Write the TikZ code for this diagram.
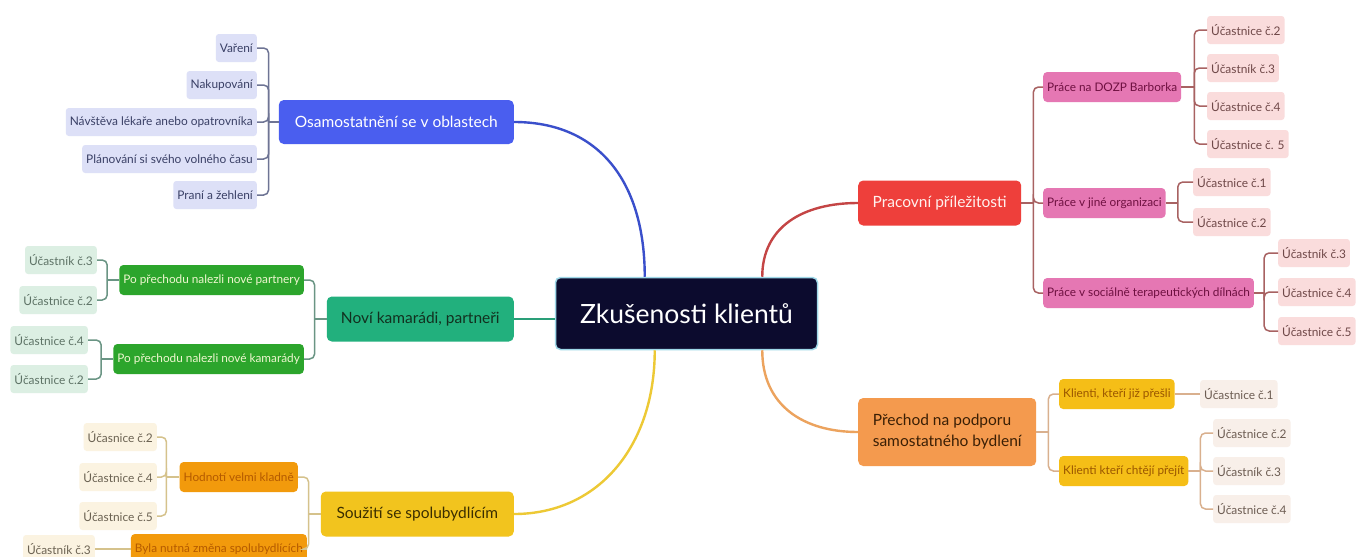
\documentclass[tikz,border=0pt]{standalone}
\usepackage{fontspec}
\setmainfont{Lato}
\definecolor{navy}{HTML}{0C0B2E}
\definecolor{cyanB}{HTML}{9FD8E8}
\definecolor{blueM}{HTML}{4A5EEF}
\definecolor{blueL}{HTML}{DDE0F7}
\definecolor{blueT}{HTML}{3A4066}
\definecolor{blueC}{HTML}{3A4FCB}
\definecolor{blueBr}{HTML}{6E7494}
\definecolor{greenM}{HTML}{22B07D}
\definecolor{greenT}{HTML}{12301F}
\definecolor{greenS}{HTML}{2CA52C}
\definecolor{greenST}{HTML}{EFF7D0}
\definecolor{greenL}{HTML}{DCEFE3}
\definecolor{greenLT}{HTML}{5E7366}
\definecolor{greenC}{HTML}{2A9F78}
\definecolor{greenBr}{HTML}{6A9584}
\definecolor{yelM}{HTML}{F2C41E}
\definecolor{yelT}{HTML}{3B2E00}
\definecolor{orS}{HTML}{F29A0C}
\definecolor{orST}{HTML}{B45A00}
\definecolor{yelL}{HTML}{FBF3E1}
\definecolor{yelLT}{HTML}{6B6252}
\definecolor{yelC}{HTML}{EDC935}
\definecolor{yelBr}{HTML}{D5C28C}
\definecolor{redM}{HTML}{EE3F3B}
\definecolor{redT}{HTML}{FFF1EE}
\definecolor{pinkS}{HTML}{E577B3}
\definecolor{pinkST}{HTML}{6E1040}
\definecolor{pinkL}{HTML}{FADCDC}
\definecolor{pinkLT}{HTML}{6F4848}
\definecolor{redC}{HTML}{C44545}
\definecolor{redBr}{HTML}{A86262}
\definecolor{orM}{HTML}{F49A4E}
\definecolor{orMT}{HTML}{3A1F05}
\definecolor{klS}{HTML}{F5BE17}
\definecolor{klST}{HTML}{9A5600}
\definecolor{orL}{HTML}{F8EFE9}
\definecolor{orLT}{HTML}{6C5C52}
\definecolor{orC}{HTML}{ECA35E}
\definecolor{orBr}{HTML}{D9B08E}
\tikzset{
  lf/.style={rounded corners=3pt, inner xsep=4pt, inner ysep=0pt, minimum height=28pt, font=\fontsize{11.9}{13}\selectfont},
  sb/.style={rounded corners=4pt, inner xsep=4pt, inner ysep=0pt, minimum height=30pt, font=\fontsize{11.8}{13}\selectfont},
  mn/.style={rounded corners=5pt, inner sep=0pt, font=\fontsize{15.5}{18}\selectfont},
  con/.style={line width=2.4pt},
  brk/.style={line width=1.5pt, rounded corners=5pt},
}
\begin{document}
\begin{tikzpicture}[x=1pt,y=-1pt]
\useasboundingbox (0,0) rectangle (1358,557);
\clip (0,0) rectangle (1358,557);
\fill[white] (0,0) rectangle (1358,557);

% central
\node[fill=navy, draw=cyanB, line width=1.5pt, rounded corners=5pt, minimum width=262pt, minimum height=72pt, text=white, font=\fontsize{26.5}{30}\selectfont] (c) at (686.5,313.5) {Zkušenosti klientů};

% ---------- blue ----------
\node[mn, fill=blueM, text=white, minimum width=235pt, minimum height=44pt, anchor=east] (osam) at (514,122) {Osamostatnění se v oblastech};
\node[lf, fill=blueL, text=blueT, anchor=east] (b1) at (257,48) {Vaření};
\node[lf, fill=blueL, text=blueT, anchor=east] (b2) at (257,85) {Nakupování};
\node[lf, fill=blueL, text=blueT, anchor=east] (b3) at (257,122) {Návštěva lékaře anebo opatrovníka};
\node[lf, fill=blueL, text=blueT, anchor=east] (b4) at (257,159) {Plánování si svého volného času};
\node[lf, fill=blueL, text=blueT, anchor=east] (b5) at (257,195) {Praní a žehlení};
\draw[con, blueC] (osam.east) .. controls +(85,0) and +(0,-95) .. ([xshift=90pt]c.north west);
\draw[brk, blueBr] (osam.west) -- ++(-10,0);
\foreach \n in {b1,b2,b3,b4,b5} \draw[brk, blueBr] ([xshift=-10pt]osam.west) |- (\n.east);

% ---------- green ----------
\node[mn, fill=greenM, text=greenT, minimum width=187pt, minimum height=45pt, anchor=east] (novi) at (514,319) {Noví kamarádi, partneři};
\draw[con, greenC] (novi.east) -- (c.west |- novi.east);
\node[sb, fill=greenS, text=greenST, anchor=east] (g1) at (304,280) {Po přechodu nalezli nové partnery};
\node[sb, fill=greenS, text=greenST, anchor=east] (g2) at (304,359) {Po přechodu nalezli nové kamarády};
\draw[brk, greenBr] (novi.west) -- ++(-12,0);
\foreach \n in {g1,g2} \draw[brk, greenBr] ([xshift=-12pt]novi.west) |- (\n.east);
\node[lf, fill=greenL, text=greenLT, anchor=east] (g11) at (97,260) {Účastník č.3};
\node[lf, fill=greenL, text=greenLT, anchor=east] (g12) at (97,300) {Účastnice č.2};
\node[lf, fill=greenL, text=greenLT, anchor=east] (g21) at (88,340) {Účastnice č.4};
\node[lf, fill=greenL, text=greenLT, anchor=east] (g22) at (88,379) {Účastnice č.2};
\draw[brk, greenBr] (g1.west) -- ++(-12,0);
\foreach \n in {g11,g12} \draw[brk, greenBr] ([xshift=-12pt]g1.west) |- (\n.east);
\draw[brk, greenBr] (g2.west) -- ++(-12,0);
\foreach \n in {g21,g22} \draw[brk, greenBr] ([xshift=-12pt]g2.west) |- (\n.east);

% ---------- yellow ----------
\node[mn, fill=yelM, text=yelT, minimum width=193pt, minimum height=45pt, anchor=east] (sou) at (514,514) {Soužití se spolubydlícím};
\draw[con, yelC] (sou.east) .. controls +(85,0) and +(0,95) .. ([xshift=100pt]c.south west);
\node[sb, fill=orS, text=orST, anchor=east] (y1) at (298,477) {Hodnotí velmi kladně};
\node[sb, fill=orS, text=orST, anchor=east] (y2) at (307,549) {Byla nutná změna spolubydlících};
\draw[brk, yelBr] (sou.west) -- ++(-12,0);
\foreach \n in {y1,y2} \draw[brk, yelBr] ([xshift=-12pt]sou.west) |- (\n.east);
\node[lf, fill=yelL, text=yelLT, anchor=east] (y11) at (157,437) {Účasnice č.2};
\node[lf, fill=yelL, text=yelLT, anchor=east] (y12) at (157,477) {Účastnice č.4};
\node[lf, fill=yelL, text=yelLT, anchor=east] (y13) at (157,516) {Účastnice č.5};
\node[lf, fill=yelL, text=yelLT, anchor=east] (y21) at (95,549) {Účastník č.3};
\draw[brk, yelBr] (y1.west) -- ++(-13,0);
\foreach \n in {y11,y12,y13} \draw[brk, yelBr] ([xshift=-13pt]y1.west) |- (\n.east);
\draw[brk, yelBr] (y2.west) -- (y21.east);

% ---------- red ----------
\node[mn, fill=redM, text=redT, minimum width=163pt, minimum height=45pt, anchor=west] (prac) at (858,203) {Pracovní příležitosti};
\draw[con, redC] ([xshift=-56pt]c.north east) .. controls +(0,-50) and +(-55,0) .. (prac.west);
\node[sb, fill=pinkS, text=pinkST, anchor=west] (r1) at (1043,87) {Práce na DOZP Barborka};
\node[sb, fill=pinkS, text=pinkST, anchor=west] (r2) at (1043,203) {Práce v jiné organizaci};
\node[sb, fill=pinkS, text=pinkST, anchor=west] (r3) at (1043,293) {Práce v sociálně terapeutických dílnách};
\draw[brk, redBr] (prac.east) -- ++(12,0);
\foreach \n in {r1,r2,r3} \draw[brk, redBr] ([xshift=12pt]prac.east) |- (\n.west);
\node[lf, fill=pinkL, text=pinkLT, anchor=west] (r11) at (1207,30) {Účastnice č.2};
\node[lf, fill=pinkL, text=pinkLT, anchor=west] (r12) at (1207,68) {Účastník č.3};
\node[lf, fill=pinkL, text=pinkLT, anchor=west] (r13) at (1207,106) {Účastnice č.4};
\node[lf, fill=pinkL, text=pinkLT, anchor=west] (r14) at (1207,144) {Účastnice č. 5};
\draw[brk, redBr] (r1.east) -- ++(13,0);
\foreach \n in {r11,r12,r13,r14} \draw[brk, redBr] ([xshift=13pt]r1.east) |- (\n.west);
\node[lf, fill=pinkL, text=pinkLT, anchor=west] (r21) at (1193,182) {Účastnice č.1};
\node[lf, fill=pinkL, text=pinkLT, anchor=west] (r22) at (1193,222) {Účastnice č.2};
\draw[brk, redBr] (r2.east) -- ++(12,0);
\foreach \n in {r21,r22} \draw[brk, redBr] ([xshift=12pt]r2.east) |- (\n.west);
\node[lf, fill=pinkL, text=pinkLT, anchor=west] (r31) at (1278,253) {Účastník č.3};
\node[lf, fill=pinkL, text=pinkLT, anchor=west] (r32) at (1278,292) {Účastnice č.4};
\node[lf, fill=pinkL, text=pinkLT, anchor=west] (r33) at (1278,331) {Účastnice č.5};
\draw[brk, redBr] (r3.east) -- ++(10,0);
\foreach \n in {r31,r32,r33} \draw[brk, redBr] ([xshift=10pt]r3.east) |- (\n.west);

% ---------- orange ----------
\node[mn, fill=orM, text=orMT, minimum width=178pt, minimum height=68pt, anchor=west, align=left, font=\fontsize{15.5}{21}\selectfont] (pre) at (858,432) {Přechod na podporu\\samostatného bydlení};
\draw[con, orC] ([xshift=-56pt]c.south east) .. controls +(0,55) and +(-55,0) .. (pre.west);
\node[sb, fill=klS, text=klST, anchor=west] (o1) at (1059,394) {Klienti, kteří již přešli};
\node[sb, fill=klS, text=klST, anchor=west] (o2) at (1059,471) {Klienti kteří chtějí přejít};
\draw[brk, orBr] (pre.east) -- ++(12,0);
\foreach \n in {o1,o2} \draw[brk, orBr] ([xshift=12pt]pre.east) |- (\n.west);
\node[lf, fill=orL, text=orLT, anchor=west] (o11) at (1200,394) {Účastnice č.1};
\draw[brk, orBr] (o1.east) -- (o11.west);
\node[lf, fill=orL, text=orLT, anchor=west] (o21) at (1213,433) {Účastnice č.2};
\node[lf, fill=orL, text=orLT, anchor=west] (o22) at (1213,471) {Účastník č.3};
\node[lf, fill=orL, text=orLT, anchor=west] (o23) at (1213,509) {Účastnice č.4};
\draw[brk, orBr] (o2.east) -- ++(12,0);
\foreach \n in {o21,o22,o23} \draw[brk, orBr] ([xshift=12pt]o2.east) |- (\n.west);
\end{tikzpicture}
\end{document}
